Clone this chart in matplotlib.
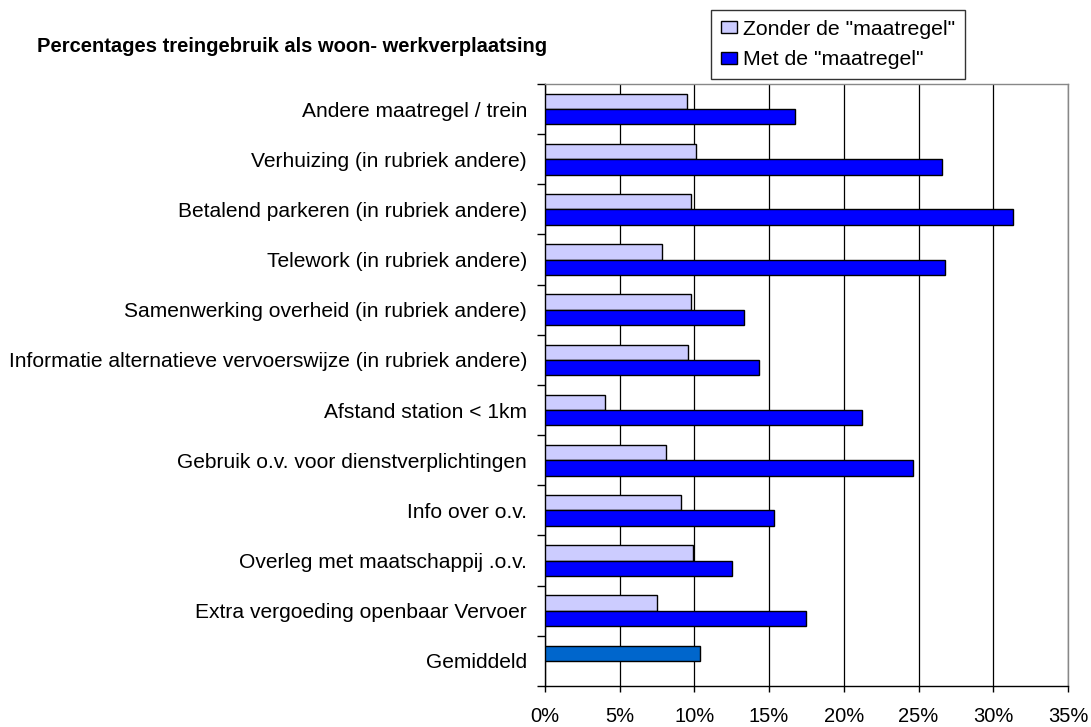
import matplotlib
matplotlib.use("Agg")
import matplotlib.pyplot as plt
import numpy as np
from matplotlib.patches import Patch

plt.rcParams['font.family'] = ['Liberation Sans', 'DejaVu Sans']

categories = ['Andere maatregel / trein',
              'Verhuizing (in rubriek andere)',
              'Betalend parkeren (in rubriek andere)',
              'Telework (in rubriek andere)',
              'Samenwerking overheid (in rubriek andere)',
              'Informatie alternatieve vervoerswijze (in rubriek andere)',
              'Afstand station < 1km',
              'Gebruik o.v. voor dienstverplichtingen',
              'Info over o.v.',
              'Overleg met maatschappij .o.v.',
              'Extra vergoeding openbaar Vervoer',
              'Gemiddeld']
zonder = [9.5, 10.1, 9.8, 7.8, 9.8, 9.6, 4.0, 8.1, 9.1, 9.9, 7.5]
met = [16.7, 26.6, 31.3, 26.8, 13.3, 14.3, 21.2, 24.6, 15.3, 12.5, 17.5]
gemiddeld = 10.4
xticks = [0, 5, 10, 15, 20, 25, 30, 35]

fig = plt.figure(figsize=(10.91, 7.27), dpi=100)
ax = fig.add_axes([0.4995, 0.0564, 0.4794, 0.8281])

h = 0.305
y = np.arange(len(zonder))
ax.barh(y - h/2, zonder, height=h, color='#CCCCFF', edgecolor='black', linewidth=1, zorder=3)
ax.barh(y + h/2, met, height=h, color='#0000FF', edgecolor='black', linewidth=1, zorder=3)
ax.barh([len(categories) - 1 - h/2], [gemiddeld], height=h, color='#0066CC',
        edgecolor='black', linewidth=1, zorder=3)

ax.set_xlim(0, 35)
ax.set_ylim(len(categories) - 0.5, -0.5)

# x axis
ax.set_xticks(xticks)
ax.set_xticklabels(['%d%%' % t for t in xticks], fontsize=14.5)
ax.tick_params(axis='x', direction='out', length=4.5, width=1, pad=10.5)
ax.grid(axis='x', color='black', linewidth=0.9, zorder=0)

# y axis: ticks between categories, labels in the middle
ax.set_yticks(np.arange(-0.5, len(categories)), minor=False)
ax.set_yticklabels([])
ax.set_yticks(np.arange(len(categories)), minor=True)
ax.set_yticklabels(categories, minor=True, fontsize=15.1)
ax.tick_params(axis='y', which='major', direction='out', length=5.5, width=1)
ax.tick_params(axis='y', which='minor', length=0, pad=13)

for s in ['left', 'bottom']:
    ax.spines[s].set_color('black')
    ax.spines[s].set_linewidth(1)
for s in ['top', 'right']:
    ax.spines[s].set_color('#888888')
    ax.spines[s].set_linewidth(1)

fig.text(37/1091, 1 - 47/727, 'Percentages treingebruik als woon- werkverplaatsing',
         fontsize=14.5, fontweight='bold', ha='left', va='center')

handles = [Patch(facecolor='#CCCCFF', edgecolor='black', label='Zonder de "maatregel"'),
           Patch(facecolor='#0000FF', edgecolor='black', label='Met de "maatregel"')]
leg = fig.legend(handles=handles, loc='upper left', bbox_to_anchor=(711/1091, 1 - 10/727),
                 fontsize=15.3, frameon=True, fancybox=False, edgecolor='black',
                 handlelength=0.75, handleheight=0.5, handletextpad=0.3,
                 borderpad=0.45, labelspacing=0.55, borderaxespad=0)
leg.get_frame().set_linewidth(1)

fig.savefig('out.png', dpi=100)
